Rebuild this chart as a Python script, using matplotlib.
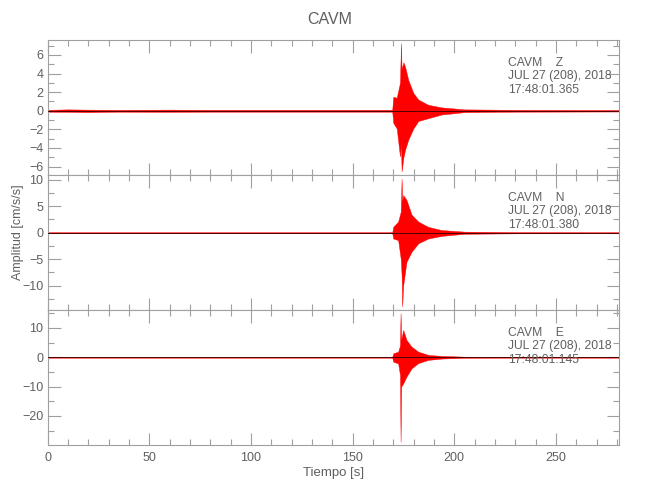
import matplotlib
matplotlib.use("Agg")
import matplotlib.pyplot as plt
from matplotlib.ticker import MultipleLocator

# ---------------- data (envelopes) ----------------
station = "CAVM"
components = ["Z", "N", "E"]
start_times = ["17:48:01.365", "17:48:01.380", "17:48:01.145"]
date_label = "JUL 27 (208), 2018"

t_z = [0, 10, 20, 35, 60, 80, 120, 160, 169.5, 170.0, 171.7, 173.3, 173.8, 174.1, 175.0,
       175.8, 177.4, 179.9, 182.3, 187.2, 193.8, 205, 230, 281]
up_z = [0.1, 0.15, 0.12, 0.1, 0.12, 0.1, 0.1, 0.1, 0.1, 1.5, 1.4, 3.0, 7.25, 4.5, 5.2,
        4.75, 3.3, 1.9, 1.2, 0.64, 0.36, 0.15, 0.1, 0.08]
lo_z = [-0.1, -0.12, -0.15, -0.1, -0.12, -0.1, -0.1, -0.1, -0.1, -1.3, -1.9, -4.9, -3.5,
        -6.5, -5.0, -4.2, -3.1, -1.9, -1.1, -0.8, -0.4, -0.15, -0.1, -0.08]

t_n = [0, 40, 100, 160, 169.5, 170.0, 172.4, 173.7, 174.1, 174.4, 174.9, 176.5, 179.0,
       182.3, 187.2, 193.8, 205, 230, 281]
up_n = [0.1, 0.1, 0.1, 0.1, 0.1, 1.13, 2.1, 4.0, 10.2, 6.0, 7.1, 6.2, 3.4, 2.1, 1.1, 0.5,
        0.2, 0.12, 0.1]
lo_n = [-0.1, -0.1, -0.1, -0.1, -0.1, -1.1, -1.4, -5.0, -8.0, -13.9, -9.9, -5.5, -3.6,
        -2.0, -1.1, -0.6, -0.2, -0.12, -0.1]

t_e = [0, 40, 100, 160, 169.5, 170.0, 172.4, 173.3, 173.6, 173.9, 174.9, 176.5, 179.0,
       182.3, 187.2, 193.8, 205, 230, 281]
up_e = [0.15, 0.15, 0.15, 0.15, 0.15, 1.36, 1.9, 4.0, 15.0, 6.0, 9.3, 5.9, 3.6, 1.9, 0.8,
        0.45, 0.2, 0.15, 0.15]
lo_e = [-0.15, -0.15, -0.15, -0.15, -0.15, -1.5, -2.1, -6.0, -28.8, -10.0, -8.9, -6.6,
        -3.8, -2.0, -0.9, -0.45, -0.2, -0.15, -0.15]

times = [t_z, t_n, t_e]
uppers = [up_z, up_n, up_e]
lowers = [lo_z, lo_n, lo_e]
ylims = [(-6.9, 7.6), (-14.6, 10.9), (-29.9, 16.1)]
ymajor = [2, 5, 10]
yminor = [1, 2.5, 5]
xlim = (0, 281)

# ---------------- style ----------------
axis_col = "#a0a0a0"
text_col = "#606060"
plt.rcParams["font.family"] = ["Liberation Sans", "DejaVu Sans"]

fig = plt.figure(figsize=(6.5, 5), dpi=100)
left, width = 0.0731, 0.8792
bottoms = [0.65, 0.38, 0.11]
height = 0.27

axes = []
for i in range(3):
    ax = fig.add_axes([left, bottoms[i], width, height])
    axes.append(ax)
    ax.axhline(0, color="#300000", lw=0.6, zorder=3)
    ax.fill_between(times[i], lowers[i], uppers[i], color="#ff0000", lw=0.3,
                    edgecolor="#ff0000", zorder=2)
    ax.set_xlim(*xlim)
    ax.set_ylim(*ylims[i])
    ax.xaxis.set_major_locator(MultipleLocator(50))
    ax.xaxis.set_minor_locator(MultipleLocator(10))
    ax.yaxis.set_major_locator(MultipleLocator(ymajor[i]))
    ax.yaxis.set_minor_locator(MultipleLocator(yminor[i]))
    ax.tick_params(which="both", direction="in", top=True, right=True,
                   color=axis_col, labelcolor=text_col, labelsize=9, width=0.8)
    ax.tick_params(which="major", length=9)
    ax.tick_params(which="minor", length=4.5)
    ax.tick_params(axis="y", pad=3)
    ax.tick_params(axis="x", pad=5)
    for s in ax.spines.values():
        s.set_color(axis_col)
        s.set_linewidth(0.8)
    if i < 2:
        ax.tick_params(axis="x", labelbottom=False)
    ax.text(0.8055, 0.875, f"{station}    {components[i]}\n{date_label}\n{start_times[i]}",
            transform=ax.transAxes, ha="left", va="top", fontsize=8.7,
            color=text_col, linespacing=1.17, zorder=5)

fig.text(0.508, 0.962, station, ha="center", va="center", fontsize=11.5, color=text_col)
axes[2].set_xlabel("Tiempo [s]", fontsize=9.5, color=text_col, labelpad=2)
fig.text(0.028, 0.535, "Amplitud [cm/s/s]", rotation=90, ha="center", va="center",
         fontsize=9, color=text_col)

fig.savefig("out.png", dpi=100)
